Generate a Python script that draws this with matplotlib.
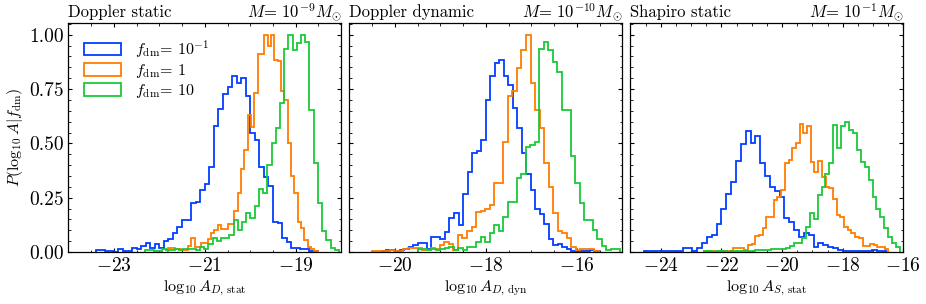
import numpy as np
import matplotlib
matplotlib.use("Agg")
import matplotlib.pyplot as plt
from matplotlib.ticker import MultipleLocator

plt.rcParams["font.family"] = "serif"
plt.rcParams["font.serif"] = ["cmr10"]
plt.rcParams["mathtext.fontset"] = "cm"
plt.rcParams["axes.formatter.use_mathtext"] = True
plt.rcParams["axes.linewidth"] = 0.9

############################################################
# Data (normalised histogram heights)
############################################################

labels = [r"$f_{\rm dm}$= $10^{-1}$", r"$f_{\rm dm}$= 1", r"$f_{\rm dm}$= 10"]
colors = ["#023eff", "#ff7c00", "#1ac938"]

# Doppler static, M = 1e-9 Msun
ds_blue_range = (-23.4, -18.5)
ds_blue = [0.01, 0.01, 0.005, 0.005, 0.0, 0.015, 0.003, 0.005, 0.02, 0.012,
           0.028, 0.04, 0.02, 0.037, 0.02, 0.052, 0.061, 0.086, 0.117, 0.147,
           0.147, 0.227, 0.232, 0.286, 0.313, 0.393, 0.58, 0.66, 0.725, 0.76,
           0.81, 0.777, 0.80, 0.72, 0.547, 0.516, 0.393, 0.347, 0.306, 0.14,
           0.132, 0.063, 0.048, 0.017, 0.02, 0.012, 0.015, 0.006, 0.005]
ds_orange_range = (-21.81, -18.52)
ds_orange = [0.017, 0.017, 0.015, 0.015, 0.01, 0.01, 0.028, 0.063, 0.025, 0.025,
             0.04, 0.04, 0.058, 0.086, 0.10, 0.125, 0.105, 0.105, 0.13, 0.13,
             0.19, 0.27, 0.38, 0.47, 0.63, 0.575, 0.73, 0.91, 0.91, 1.0,
             0.946, 1.0, 0.885, 0.88, 0.74, 0.70, 0.50, 0.35, 0.27, 0.14,
             0.109, 0.055, 0.025, 0.012, 0.005]
ds_green_range = (-22.31, -18.05)
ds_green = [0.01, 0.01, 0.006, 0.006, 0.012, 0.01, 0.01, 0.015, 0.01, 0.012,
            0.012, 0.015, 0.01, 0.025, 0.012, 0.037, 0.063, 0.05, 0.063, 0.063,
            0.078, 0.147, 0.10, 0.14, 0.18, 0.155, 0.21, 0.29, 0.27, 0.40,
            0.50, 0.57, 0.685, 0.934, 1.0, 0.93, 0.96, 1.0, 0.965, 0.654,
            0.41, 0.227, 0.098, 0.055, 0.02, 0.01]

# Doppler dynamic, M = 1e-10 Msun
dd_blue_range = (-20.29, -15.52)
dd_blue = [0.006, 0.008, 0.008, 0.006, 0.01, 0.015, 0.025, 0.03, 0.043, 0.043,
           0.012, 0.068, 0.068, 0.061, 0.092, 0.158, 0.178, 0.123, 0.267, 0.37,
           0.455, 0.467, 0.516, 0.70, 0.808, 0.87, 0.882, 0.808, 0.77, 0.662,
           0.57, 0.458, 0.36, 0.286, 0.20, 0.175, 0.13, 0.058, 0.03, 0.037,
           0.025, 0.015, 0.006, 0.003, 0.003, 0.003, 0.009, 0.003]
dd_orange_range = (-20.51, -15.52)
dd_orange = [0.006, 0.003, 0.003, 0.003, 0.009, 0.006, 0.006, 0.012, 0.018, 0.02,
             0.02, 0.009, 0.009, 0.018, 0.015, 0.03, 0.046, 0.037, 0.01, 0.078,
             0.063, 0.098, 0.117, 0.186, 0.19, 0.20, 0.217, 0.316, 0.316, 0.508,
             0.72, 0.74, 0.846, 0.93, 1.0, 0.78, 0.654, 0.57, 0.41, 0.298,
             0.18, 0.098, 0.089, 0.063, 0.025, 0.01, 0.012, 0.015, 0.012, 0.006]
dd_green_range = (-19.50, -15.05)
dd_green = [0.012, 0.012, 0.008, 0.015, 0.01, 0.015, 0.018, 0.025, 0.01, 0.02,
            0.01, 0.025, 0.022, 0.048, 0.068, 0.048, 0.086, 0.124, 0.098, 0.163,
            0.232, 0.232, 0.34, 0.36, 0.485, 0.493, 0.508, 0.934, 0.965, 0.93,
            0.875, 0.83, 0.654, 0.654, 0.442, 0.316, 0.227, 0.147, 0.147, 0.10,
            0.058, 0.028, 0.01, 0.015, 0.012]

# Shapiro static, M = 1e-1 Msun
ss_blue_range = (-24.56, -16.56)
ss_blue = [0.003, 0.003, 0.003, 0.003, 0.003, 0.006, 0.006, 0.006, 0.017, 0.02,
           0.006, 0.02, 0.043, 0.068, 0.08, 0.129, 0.197, 0.267, 0.323, 0.42,
           0.496, 0.558, 0.504, 0.535, 0.41, 0.35, 0.298, 0.283, 0.255, 0.155,
           0.14, 0.10, 0.068, 0.086, 0.078, 0.025, 0.04, 0.032, 0.025, 0.017,
           0.009, 0.006, 0.006, 0.006, 0.003, 0.003, 0.003, 0.009, 0.003, 0.003]
ss_orange_range = (-22.59, -16.49)
ss_orange = [0.003, 0.003, 0.003, 0.0, 0.003, 0.003, 0.006, 0.006, 0.017, 0.017,
             0.02, 0.009, 0.03, 0.037, 0.074, 0.08, 0.11, 0.16, 0.16, 0.24,
             0.252, 0.286, 0.41, 0.424, 0.48, 0.504, 0.59, 0.55, 0.58, 0.416,
             0.366, 0.42, 0.347, 0.298, 0.293, 0.243, 0.17, 0.163, 0.117, 0.10,
             0.089, 0.068, 0.063, 0.028, 0.028, 0.037, 0.032, 0.025, 0.025, 0.015]
ss_green_range = (-22.58, -16.11)
ss_green = [0.003, 0.003, 0.0, 0.003, 0.003, 0.003, 0.0, 0.003, 0.003, 0.003,
            0.003, 0.003, 0.006, 0.01, 0.01, 0.01, 0.01, 0.012, 0.012, 0.015,
            0.015, 0.017, 0.028, 0.04, 0.043, 0.063, 0.114, 0.178, 0.15, 0.263,
            0.298, 0.36, 0.41, 0.585, 0.478, 0.578, 0.60, 0.56, 0.547, 0.47,
            0.416, 0.393, 0.332, 0.255, 0.20, 0.16, 0.109, 0.07, 0.043, 0.025]

panels = [
    {
        "title": "Doppler static",
        "mass": r"$M$= $10^{-9}M_{\odot}$",
        "xlabel": r"$\log_{10}A_{D,\,{\rm stat}}$",
        "xlim": (-24, -18),
        "xticks": [-23, -21, -19],
        "series": [(ds_blue, ds_blue_range), (ds_orange, ds_orange_range),
                   (ds_green, ds_green_range)],
    },
    {
        "title": "Doppler dynamic",
        "mass": r"$M$= $10^{-10}M_{\odot}$",
        "xlabel": r"$\log_{10}A_{D,\,{\rm dyn}}$",
        "xlim": (-21, -15),
        "xticks": [-20, -18, -16],
        "series": [(dd_blue, dd_blue_range), (dd_orange, dd_orange_range),
                   (dd_green, dd_green_range)],
    },
    {
        "title": "Shapiro static",
        "mass": r"$M$= $10^{-1}M_{\odot}$",
        "xlabel": r"$\log_{10}A_{S,\,{\rm stat}}$",
        "xlim": (-25, -16),
        "xticks": [-24, -22, -20, -18, -16],
        "series": [(ss_blue, ss_blue_range), (ss_orange, ss_orange_range),
                   (ss_green, ss_green_range)],
    },
]

############################################################
# Plot
############################################################

fig, axes = plt.subplots(1, 3, figsize=(9.26, 3.04), sharey=True)
plt.subplots_adjust(left=0.0738, right=0.9755, bottom=0.171, top=0.925, wspace=0.03)

for ax, panel in zip(axes, panels):

    for (heights, (lo, hi)), color, label in zip(panel["series"], colors, labels):

        edges = np.linspace(lo, hi, len(heights) + 1)

        ax.hist(
            edges[:-1],
            bins=edges,
            weights=heights,
            histtype="step",
            color=color,
            linewidth=1.3,
            label=label
        )

    ax.set_title(panel["title"], loc="left", fontsize=12, pad=3)
    ax.set_title(panel["mass"], loc="right", fontsize=12, pad=3)

    ax.set_xlabel(panel["xlabel"], fontsize=11.5, labelpad=3)
    ax.set_xlim(*panel["xlim"])
    ax.set_xticks(panel["xticks"])
    ax.xaxis.set_minor_locator(MultipleLocator(0.5))

    ax.tick_params(which="both", direction="in", top=True, right=True,
                   labelsize=14)
    ax.tick_params(which="major", length=3.2, width=0.8)
    ax.tick_params(which="minor", length=1.8, width=0.6)

axes[0].set_ylim(0, 1.055)
axes[0].set_yticks([0, 0.25, 0.5, 0.75, 1.0])
axes[0].yaxis.set_minor_locator(MultipleLocator(0.05))
axes[0].yaxis.set_major_formatter(plt.FormatStrFormatter("%.2f"))
axes[0].set_ylabel(r"$P(\log_{10}A|f_{\rm dm})$", fontsize=11.5, labelpad=3)

axes[0].legend(loc="upper left", frameon=False, fontsize=11.5,
               handlelength=2.3, handleheight=0.8, labelspacing=0.12,
               borderaxespad=0.6, handletextpad=0.9)

plt.savefig("out.png", dpi=100)
plt.close()
